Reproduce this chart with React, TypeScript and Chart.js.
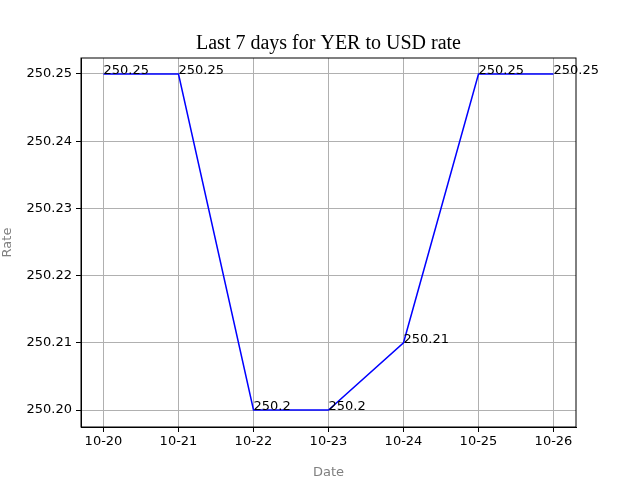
import { Chart, registerables } from "chart.js";
import { useEffect, useRef } from "react";

Chart.register(...registerables);

const dates = ["10-20", "10-21", "10-22", "10-23", "10-24", "10-25", "10-26"];
const rates = [250.25, 250.25, 250.2, 250.2, 250.21, 250.25, 250.25];
const yTicks = [250.2, 250.21, 250.22, 250.23, 250.24, 250.25];

const font = "'DejaVu Sans', sans-serif";

const extras = {
  id: "extras",
  afterDatasetsDraw(chart: any) {
    const { ctx, chartArea } = chart;
    ctx.save();
    ctx.strokeStyle = "#000";
    ctx.lineWidth = 1;
    ctx.strokeRect(chartArea.left, chartArea.top, chartArea.right - chartArea.left, chartArea.bottom - chartArea.top);
    ctx.fillStyle = "#000";
    ctx.font = "13px " + font;
    ctx.textAlign = "left";
    ctx.textBaseline = "alphabetic";
    const meta = chart.getDatasetMeta(0);
    meta.data.forEach((pt: any, i: number) => {
      ctx.fillText(String(rates[i]), pt.x, pt.y + 0);
    });
    ctx.font = "20px 'Liberation Serif', serif";
    ctx.textAlign = "center";
    ctx.fillText("Last 7 days for YER to USD rate", (chartArea.left + chartArea.right) / 2, 49);
    ctx.restore();
  },
};

export default function App() {
  const ref = useRef<HTMLCanvasElement>(null);
  useEffect(() => {
    if (!ref.current) return;
    const chart = new Chart(ref.current, {
      type: "line",
      data: {
        datasets: [
          {
            data: rates.map((r, i) => ({ x: i, y: r })),
            borderColor: "#0000ff",
            borderWidth: 1.5,
            pointRadius: 0,
            tension: 0,
          },
        ],
      },
      options: {
        animation: false,
        responsive: false,
        layout: { padding: { left: 0, right: 64, top: 58, bottom: 0 } },
        plugins: { legend: { display: false }, tooltip: { enabled: false } },
        scales: {
          x: {
            type: "linear",
            min: -0.3,
            max: 6.3,
            afterBuildTicks: (s: any) => {
              s.ticks = dates.map((_, i) => ({ value: i }));
            },
            afterFit: (s: any) => {
              s.height = 53;
            },
            ticks: {
              callback: (v: any) => dates[v] ?? "",
              color: "#000",
              font: { family: font, size: 13 },
              padding: 2,
            },
            grid: { color: "#b0b0b0", tickLength: 5, tickColor: "#000" },
            border: { color: "#000" },
            title: { display: true, text: "Date", color: "#808080", font: { family: font, size: 13 }, padding: 0 },
          },
          y: {
            min: 250.2 - 17 / 6720,
            max: 250.25 + 16 / 6720,
            afterBuildTicks: (s: any) => {
              s.ticks = yTicks.map((v) => ({ value: v }));
            },
            afterFit: (s: any) => {
              s.width = 81;
            },
            ticks: {
              callback: (v: any) => Number(v).toFixed(2),
              color: "#000",
              font: { family: font, size: 13 },
              padding: 4,
            },
            grid: { color: "#b0b0b0", tickLength: 5, tickColor: "#000" },
            border: { color: "#000" },
            title: { display: true, text: "Rate", color: "#808080", font: { family: font, size: 13 }, padding: 0 },
          },
        },
      },
      plugins: [extras],
    });
    return () => chart.destroy();
  }, []);
  return (
    <div style={{ position: "fixed", left: 0, top: 0, width: 640, height: 480, background: "#fff" }}>
      <canvas ref={ref} width={640} height={480} />
    </div>
  );
}
